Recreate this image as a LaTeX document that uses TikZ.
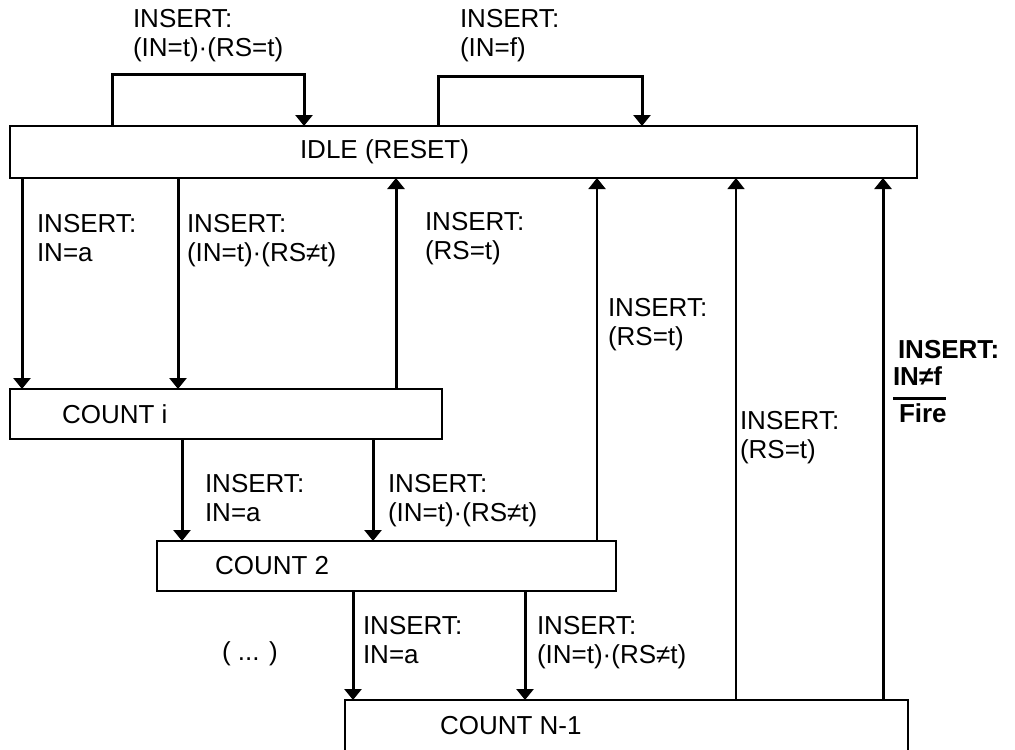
\documentclass[tikz,border=0pt]{standalone}
\usepackage{fontspec}
\setmainfont{Liberation Sans}
\usetikzlibrary{arrows.meta}
\newcommand\twolines[2]{\vtop{\baselineskip=14.5pt\hbox{#1}\hbox{#2}}}
\newcommand\boxtxt[3]{\makebox[#1][l]{\hspace*{#2}#3}}
\begin{document}
\begin{tikzpicture}[x=0.5pt,y=-0.5pt,
  every node/.style={font=\fontsize{13pt}{14.5pt}\selectfont, inner sep=0pt, outer sep=0pt},
  statebox/.style={draw, line width=1pt, inner xsep=0pt, anchor=north west},
  lab/.style={anchor=base west},
  boldlab/.style={anchor=base west, font=\fontsize{13pt}{14.5pt}\selectfont\bfseries},
  arr/.style={line width=1.5pt, -{Triangle[width=8.5pt,length=5.5pt]}},
  arrmid/.style={line width=1pt, -{Triangle[width=8.5pt,length=5.5pt]}},
  arrthin/.style={line width=0.65pt, -{Triangle[width=8.5pt,length=5.5pt]}}
]
\clip (0,0) rectangle (1015,749);
\fill[white] (0,0) rectangle (1015,749);

% states
\node[statebox, minimum height=26pt] (idle) at (10,126) {\boxtxt{453.5pt}{145pt}{IDLE (RESET)}};
\node[statebox, minimum height=25pt] (counti) at (10,389) {\boxtxt{216pt}{26pt}{COUNT i}};
\node[statebox, minimum height=25pt] (count2) at (157,541) {\boxtxt{229.5pt}{29pt}{COUNT 2}};
\node[statebox, minimum height=26pt] (countn) at (345,700) {\boxtxt{281.5pt}{47.5pt}{COUNT N-1}};

% column coordinates
\coordinate (l1a) at (112,75);
\coordinate (l1b) at (304,75);
\coordinate (l2a) at (438,77);
\coordinate (l2b) at (642,77);
\coordinate (c22) at (22,0);
\coordinate (c178) at (178,0);
\coordinate (c396) at (396,0);
\coordinate (c597) at (597,0);
\coordinate (c736) at (736,0);
\coordinate (c883) at (883,0);
\coordinate (c182) at (182,0);
\coordinate (c373) at (373,0);
\coordinate (c353) at (353,0);
\coordinate (c525) at (525,0);

% self loops
\draw[arr] (idle.north -| l1a) -- (l1a) -- (l1b) -- (idle.north -| l1b);
\draw[arr] (idle.north -| l2a) -- (l2a) -- (l2b) -- (idle.north -| l2b);

% idle -> count i
\draw[arr] (idle.south -| c22) -- (counti.north -| c22);
\draw[arr] (idle.south -| c178) -- (counti.north -| c178);
% count i -> count 2
\draw[arr] (counti.south -| c182) -- (count2.north -| c182);
\draw[arr] (counti.south -| c373) -- (count2.north -| c373);
% count 2 -> count N-1
\draw[arr] (count2.south -| c353) -- (countn.north -| c353);
\draw[arr] (count2.south -| c525) -- (countn.north -| c525);
% returns to idle
\draw[arr] (counti.north -| c396) -- (idle.south -| c396);
\draw[arrmid] (count2.north -| c597) -- (idle.south -| c597);
\draw[arrthin] (countn.north -| c736) -- (idle.south -| c736);
\draw[arr] (countn.north -| c883) -- (idle.south -| c883);

% labels
\node[lab] (tl1) at (133,28) {\twolines{INSERT:}{(IN=t)·(RS=t)}};
\node[lab] (tl2) at (460,28) {\twolines{INSERT:}{(IN=f)}};
\node[lab] (ta1) at (37,232) {\twolines{INSERT:}{IN=a}};
\node[lab] (tb1) at (187,232) {\twolines{INSERT:}{(IN=t)·(RS≠t)}};
\node[lab] (tr1) at (425,230) {\twolines{INSERT:}{(RS=t)}};
\node[lab] (tr2) at (608,316) {\twolines{INSERT:}{(RS=t)}};
\node[lab] (tr3) at (740,429) {\twolines{INSERT:}{(RS=t)}};
\node[lab] (ta2) at (205,492) {\twolines{INSERT:}{IN=a}};
\node[lab] (tb2) at (388,492) {\twolines{INSERT:}{(IN=t)·(RS≠t)}};
\node[lab] (ta3) at (363,634) {\twolines{INSERT:}{IN=a}};
\node[lab] (tb3) at (537,634) {\twolines{INSERT:}{(IN=t)·(RS≠t)}};
\node[lab] (dots) at (222,660) {( ... )};

% fire label
\node[boldlab] (fire1) at (898,358) {INSERT:};
\node[boldlab] (fire2) at (893,385) {IN≠f};
\node[boldlab] (fire3) at (899,422) {Fire};
\coordinate (ul1) at (893,398);
\coordinate (ul2) at (946,398);
\draw[line width=1.5pt] (ul1) -- (ul2);
\end{tikzpicture}
\end{document}
